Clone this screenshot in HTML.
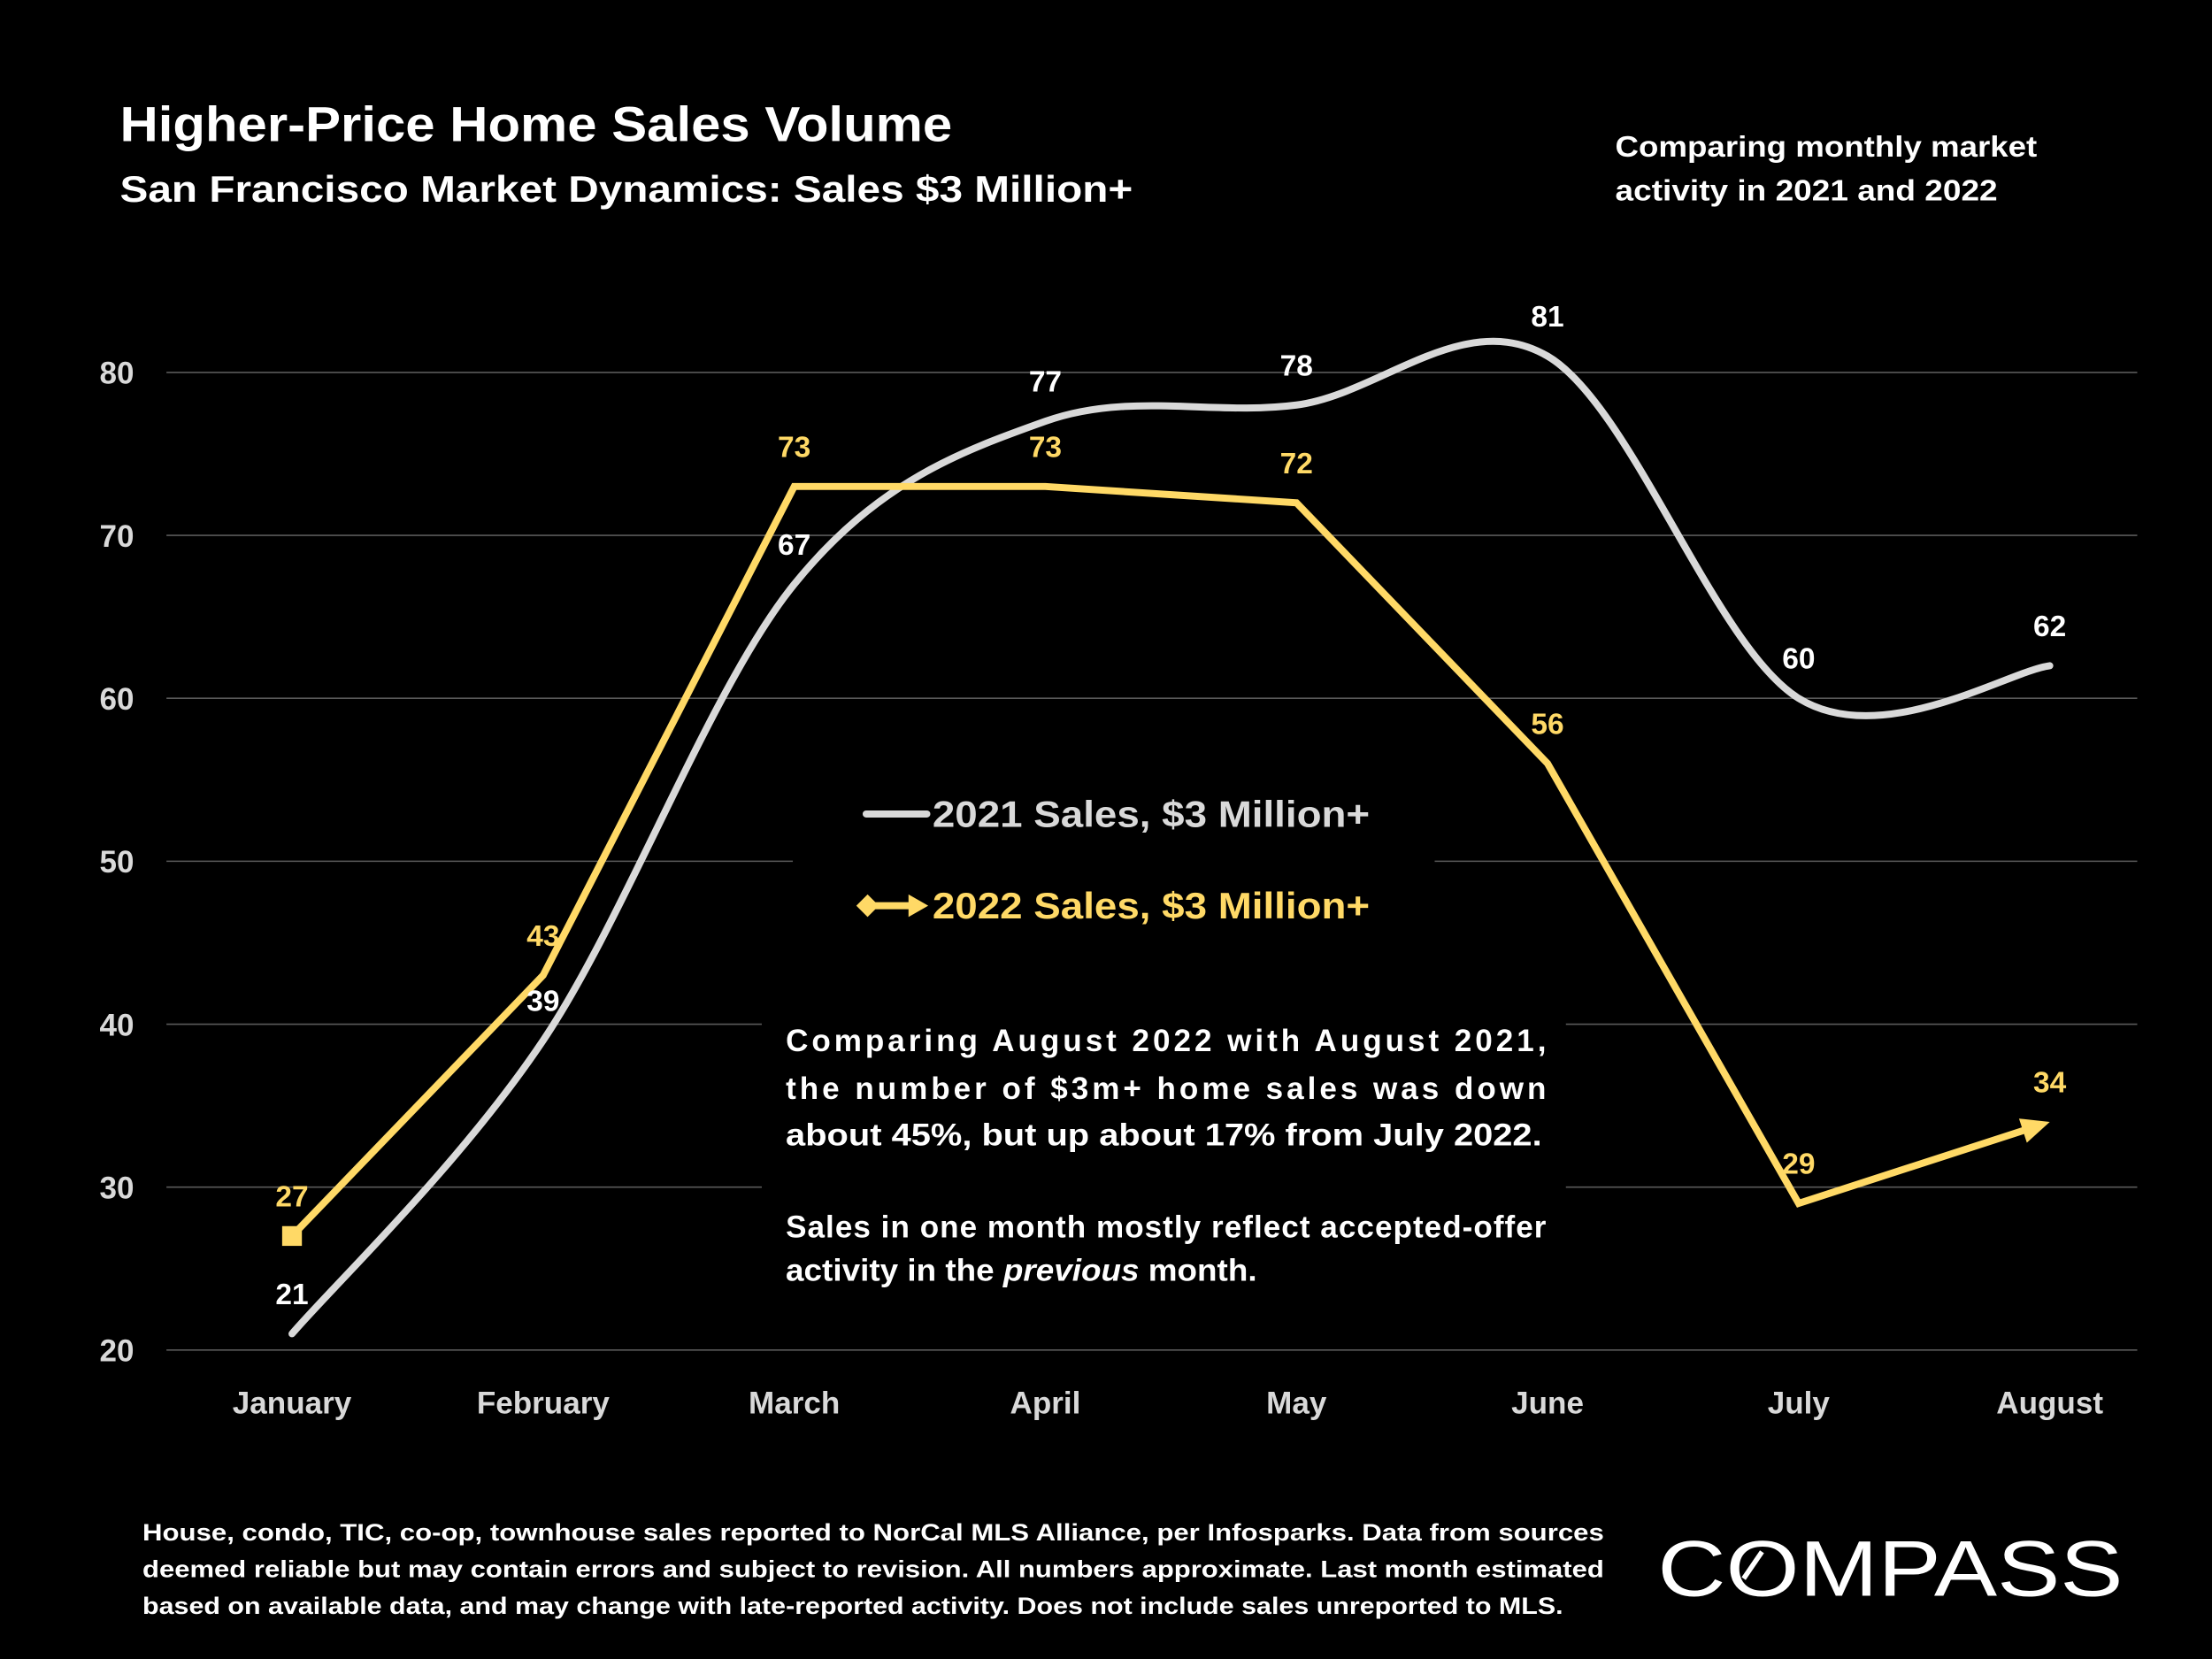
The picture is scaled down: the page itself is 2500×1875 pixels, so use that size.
<!DOCTYPE html>
<html><head><meta charset="utf-8"><style>
html,body{margin:0;padding:0;background:#000;}
svg{display:block;}
text{font-family:"Liberation Sans",sans-serif;font-weight:bold;}
</style></head><body>
<svg id="chart" width="2500" height="1875" viewBox="0 0 1568 1176" xmlns="http://www.w3.org/2000/svg">
<rect x="0" y="0" width="1568" height="1176" fill="#000"/>
<text x="85" y="100" font-size="35" fill="#fff" textLength="590" lengthAdjust="spacingAndGlyphs">Higher-Price Home Sales Volume</text>
<text x="85" y="143" font-size="26" fill="#fff" textLength="718" lengthAdjust="spacingAndGlyphs">San Francisco Market Dynamics: Sales $3 Million+</text>
<text x="1145" y="111" font-size="21" fill="#fff" textLength="299" lengthAdjust="spacingAndGlyphs">Comparing monthly market</text>
<text x="1145" y="142" font-size="21" fill="#fff" textLength="271" lengthAdjust="spacingAndGlyphs">activity in 2021 and 2022</text>
<g id="grid"></g>
<rect x="562" y="545" width="455" height="125" fill="#000"/>
<rect x="540" y="712" width="570" height="205" fill="#000"/>
<g id="series"></g>
<g>
  <line x1="614" y1="577" x2="657" y2="577" stroke="#d9d9d9" stroke-width="5" stroke-linecap="round"/>
  <text x="661" y="586" font-size="26" fill="#d9d9d9" textLength="310" lengthAdjust="spacingAndGlyphs">2021 Sales, $3 Million+</text>
  <line x1="616" y1="642" x2="648" y2="642" stroke="#ffd966" stroke-width="5"/>
  <polygon points="607,642 615,634 623,642 615,650" fill="#ffd966"/>
  <polygon points="644,634 658,642 644,650" fill="#ffd966"/>
  <text x="661" y="651" font-size="26" fill="#ffd966" textLength="310" lengthAdjust="spacingAndGlyphs">2022 Sales, $3 Million+</text>
</g>
<g fill="#fff" font-size="22">
  <text x="557" y="745" textLength="539" lengthAdjust="spacing">Comparing August 2022 with August 2021,</text>
  <text x="557" y="779" textLength="539" lengthAdjust="spacing">the number of $3m+ home sales was down</text>
  <text x="557" y="812" textLength="536" lengthAdjust="spacingAndGlyphs">about 45%, but up about 17% from July 2022.</text>
  <text x="557" y="877" textLength="539" lengthAdjust="spacing">Sales in one month mostly reflect accepted-offer</text>
  <text x="557" y="908" textLength="334" lengthAdjust="spacingAndGlyphs">activity in the <tspan font-style="italic">previous</tspan> month.</text>
</g>
<g fill="#fff" font-size="17">
  <text x="101" y="1092" textLength="1036" lengthAdjust="spacingAndGlyphs">House, condo, TIC, co-op, townhouse sales reported to NorCal MLS Alliance, per Infosparks. Data from sources</text>
  <text x="101" y="1118" textLength="1036" lengthAdjust="spacingAndGlyphs">deemed reliable but may contain errors and subject to revision. All numbers approximate. Last month estimated</text>
  <text x="101" y="1144" textLength="1007" lengthAdjust="spacingAndGlyphs">based on available data, and may change with late-reported activity. Does not include sales unreported to MLS.</text>
</g>
<g>
  <text x="1175" y="1131" font-size="56" style="font-weight:normal" fill="#fff" textLength="330" lengthAdjust="spacingAndGlyphs">COMPASS</text>
  <line x1="1236" y1="1119" x2="1249" y2="1100" stroke="#fff" stroke-width="3.5"/>
</g>
</svg>
<script>
const categories = ["January","February","March","April","May","June","July","August"];
const sales2021 = [21,39,67,77,78,81,60,62];
const sales2022 = [27,43,73,73,72,56,29,34];
const yTicks = [20,30,40,50,60,70,80];

const NS = "http://www.w3.org/2000/svg";
const x0 = 207, xStep = 178;
function xScale(i){ return x0 + i * xStep; }
function yScale(v){ return 957 - (v - 20) * (957 - 264) / 60; }
function mk(tag, attrs, parent){
  const el = document.createElementNS(NS, tag);
  for (const k in attrs) el.setAttribute(k, attrs[k]);
  parent.appendChild(el);
  return el;
}
const grid = document.getElementById("grid");
const series = document.getElementById("series");

yTicks.forEach(t => {
  const ln = mk("line", {x1:118, x2:1515, y1:yScale(t), y2:yScale(t), stroke:"#5a5a5a", "stroke-width":1}, grid);
  
  
  const tx = mk("text", {x:95, y:yScale(t)+8, "text-anchor":"end", "font-size":22, fill:"#d9d9d9"}, grid);
  tx.textContent = t;
  
  
});
categories.forEach((c, i) => {
  const tx = mk("text", {x:xScale(i), y:1002, "text-anchor":"middle", "font-size":22, fill:"#d9d9d9"}, grid);
  tx.textContent = c;
  
  
});

const p1 = sales2021.map((v,i)=>[xScale(i), yScale(v)]);
let d = "M" + p1[0][0] + "," + p1[0][1];
for (let i = 0; i < p1.length - 1; i++) {
  const a = p1[Math.max(0,i-1)], b = p1[i], c = p1[i+1], e = p1[Math.min(p1.length-1,i+2)];
  const k = 6;
  d += " C" + (b[0]+(c[0]-a[0])/k) + "," + (b[1]+(c[1]-a[1])/k) + " " + (c[0]-(e[0]-b[0])/k) + "," + (c[1]-(e[1]-b[1])/k) + " " + c[0] + "," + c[1];
}
const l1 = mk("path", {d:d, fill:"none", stroke:"#d9d9d9", "stroke-width":5, "stroke-linecap":"round"}, series);



const p2 = sales2022.map((v,i)=>[xScale(i), yScale(v)]);
const n = p2.length;
const last = p2[n-1], prev = p2[n-2];
const ang = Math.atan2(last[1]-prev[1], last[0]-prev[0]);
const tipBack = [last[0]-12*Math.cos(ang), last[1]-12*Math.sin(ang)];
const pts = p2.slice(0, n-1).concat([tipBack]).map(p=>p.join(",")).join(" ");
const l2 = mk("polyline", {points:pts, fill:"none", stroke:"#ffd966", "stroke-width":5, "stroke-linejoin":"miter"}, series);


const sq = mk("rect", {x:p2[0][0]-7, y:p2[0][1]-7, width:14, height:14, fill:"#ffd966"}, series);


const L = 20, W = 9;
const ax = last[0], ay = last[1];
const bx = ax - L*Math.cos(ang), by = ay - L*Math.sin(ang);
const arrowPts = [[ax,ay],[bx - W*Math.sin(ang), by + W*Math.cos(ang)],[bx + W*Math.sin(ang), by - W*Math.cos(ang)]].map(p=>p.join(",")).join(" ");
const arr = mk("polygon", {points:arrowPts, fill:"#ffd966"}, series);



sales2021.forEach((v,i)=>{
  const t = mk("text", {x:xScale(i), y:yScale(v)-21, "text-anchor":"middle", "font-size":21, fill:"#fff"}, series);
  t.textContent = v;
  
  
});
sales2022.forEach((v,i)=>{
  const t = mk("text", {x:xScale(i), y:yScale(v)-21, "text-anchor":"middle", "font-size":21, fill:"#ffd966"}, series);
  t.textContent = v;
  
  
});
</script>
</body></html>
